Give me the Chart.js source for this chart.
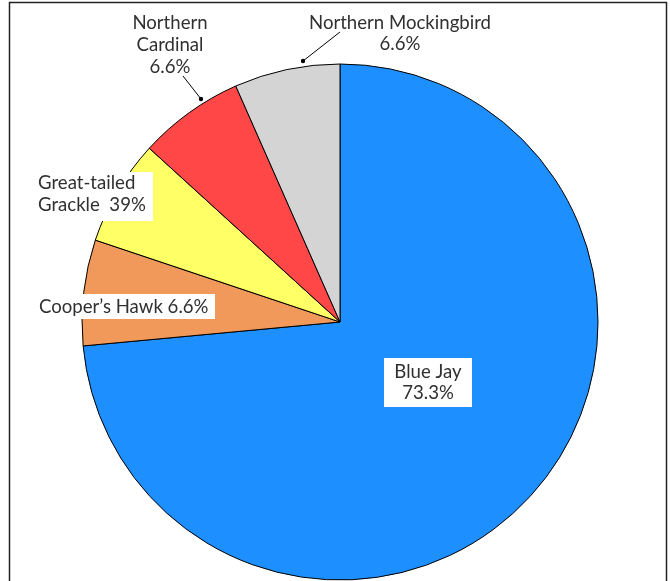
<!DOCTYPE html>
<html>
<head>
<meta charset="utf-8">
<script src="https://cdn.jsdelivr.net/npm/chart.js@4.4.1/dist/chart.umd.min.js"></script>
<style>
  html, body { margin: 0; padding: 0; background: #ffffff; }
  #wrap { position: relative; width: 670px; height: 581px; }
</style>
</head>
<body>
<div id="wrap"><canvas id="c" width="670" height="581"></canvas></div>
<script>
const categories = ["Blue Jay", "Cooper\u2019s Hawk", "Great-tailed Grackle", "Northern Cardinal", "Northern Mockingbird"];
const percents = [73.3, 6.6, 6.6, 6.6, 6.6];
const percentLabels = ["73.3%", "6.6%", "39%", "6.6%", "6.6%"];
const colors = ["#1E8FFF", "#F0995B", "#FFFF66", "#FF4747", "#D4D4D4"];

const FONT = '18.6px Lato, "Open Sans", sans-serif';
const TXT = '#303030';

const labelPlugin = {
  id: 'labelPlugin',
  afterDraw(chart) {
    const ctx = chart.ctx;
    const arcs = chart.getDatasetMeta(0).data;
    const cx = arcs[0].x, cy = arcs[0].y;
    ctx.save();
    // frame
    ctx.strokeStyle = '#222222';
    ctx.lineWidth = 1.5;
    ctx.strokeRect(9.5, 2.5, 657, 640);

    ctx.font = FONT;
    ctx.fillStyle = TXT;
    ctx.textBaseline = 'middle';

    function box(x, y, w, h) {
      ctx.fillStyle = '#ffffff';
      ctx.fillRect(x, y, w, h);
      ctx.fillStyle = TXT;
    }
    // Blue Jay (inside)
    box(cx + 44, cy + 36, 88, 49);
    ctx.textAlign = 'center';
    ctx.fillText(categories[0], cx + 88, cy + 50);
    ctx.fillText(percentLabels[0], cx + 88, cy + 71);

    // Cooper's Hawk
    ctx.textAlign = 'left';
    box(33, cy - 28, 182, 25);
    ctx.fillText(categories[1] + ' ' + percentLabels[1], 39, cy - 15);

    // Great-tailed Grackle
    box(33, cy - 150, 120, 49);
    ctx.fillText('Great-tailed', 38, cy - 139);
    ctx.fillText('Grackle  ' + percentLabels[2], 38, cy - 117);

    // Northern Cardinal
    ctx.textAlign = 'center';
    ctx.fillText('Northern', 170, 23);
    ctx.fillText('Cardinal', 170, 45);
    ctx.fillText(percentLabels[3], 170, 67);

    // Northern Mockingbird
    ctx.fillText(categories[4], 400, 23);
    ctx.fillText(percentLabels[4], 400, 44);

    // leader lines
    ctx.strokeStyle = '#000000';
    ctx.lineWidth = 1;
    function leader(x1, y1, x2, y2) {
      ctx.beginPath();
      ctx.moveTo(x1, y1);
      ctx.lineTo(x2, y2);
      ctx.stroke();
      ctx.beginPath();
      ctx.fillStyle = '#000000';
      ctx.arc(x2, y2, 2.2, 0, Math.PI * 2);
      ctx.fill();
      ctx.fillStyle = TXT;
    }
    leader(183, 76, 201, 99);
    leader(340, 32, 303, 61);
    ctx.restore();
  }
};

new Chart(document.getElementById('c'), {
  type: 'pie',
  data: {
    labels: categories,
    datasets: [{
      data: percents,
      backgroundColor: colors,
      borderColor: '#000000',
      borderWidth: 1
    }]
  },
  options: {
    responsive: false,
    animation: false,
    radius: 258,
    layout: { padding: { left: 82, right: 72, top: 64, bottom: 1 } },
    plugins: {
      legend: { display: false },
      tooltip: { enabled: false },
      title: { display: false }
    }
  },
  plugins: [labelPlugin]
});
</script>
</body>
</html>
